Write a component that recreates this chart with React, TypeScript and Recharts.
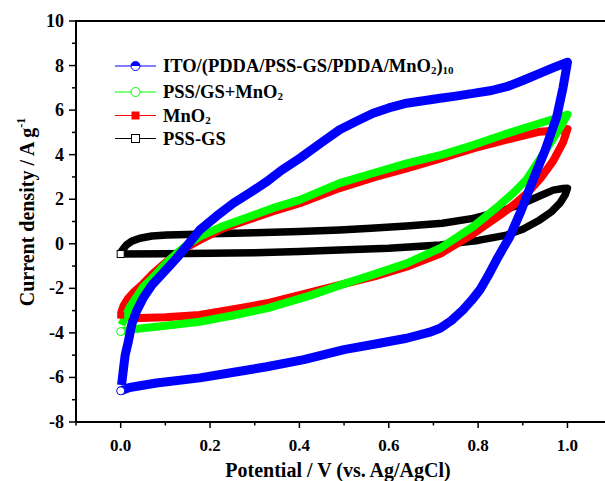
import { LineChart, Line, XAxis, YAxis } from "recharts";

// potential (V) and current density (A/g), traced as closed loops
const lblV = [0, 0.02, 0.08, 0.177, 0.25, 0.327, 0.41, 0.5, 0.57, 0.64, 0.69, 0.715, 0.74, 0.766, 0.785, 0.804, 0.822, 0.841, 0.856, 0.871, 0.897, 0.92, 0.95, 0.976, 0.99, 1.0,
  0.97, 0.938, 0.9, 0.864, 0.83, 0.789, 0.75, 0.715, 0.64, 0.6, 0.565, 0.53, 0.49, 0.45, 0.401, 0.36, 0.327, 0.29, 0.252, 0.215, 0.177, 0.15, 0.125, 0.1, 0.07, 0.05, 0.036, 0.025, 0.017, 0.01, 0.006, 0.002];
const lblI = [-6.6, -6.45, -6.25, -6.02, -5.78, -5.52, -5.2, -4.75, -4.5, -4.24, -3.98, -3.79, -3.45, -2.97, -2.55, -2.07, -1.45, -0.73, -0.2, 0.32, 1.52, 2.72, 4.2, 5.7, 7.0, 8.15,
  7.92, 7.65, 7.33, 7.05, 6.88, 6.75, 6.63, 6.53, 6.31, 6.1, 5.86, 5.52, 5.12, 4.55, 3.84, 3.3, 2.79, 2.3, 1.82, 1.25, 0.62, -0.05, -0.65, -1.2, -1.85, -2.45, -3.0, -3.6, -4.4, -5.0, -5.66, -6.34];

const pgmV = [0, 0.028, 0.1, 0.177, 0.25, 0.327, 0.42, 0.5, 0.57, 0.64, 0.715, 0.789, 0.849, 0.88, 0.909, 0.93, 0.953, 0.983, 1.0,
  0.985, 0.938, 0.86, 0.789, 0.72, 0.64, 0.57, 0.49, 0.401, 0.34, 0.289, 0.23, 0.177, 0.15, 0.125, 0.1, 0.073, 0.05, 0.035, 0.021, 0.01, 0.002];
const pgmI = [-3.94, -3.84, -3.68, -3.5, -3.22, -2.9, -2.35, -1.8, -1.35, -0.88, -0.2, 0.77, 1.75, 2.3, 2.9, 3.55, 4.25, 5.2, 5.8,
  5.7, 5.41, 4.92, 4.43, 4.0, 3.61, 3.2, 2.72, 1.97, 1.6, 1.22, 0.8, 0.32, -0.03, -0.43, -0.9, -1.5, -1.95, -2.4, -2.82, -3.3, -3.64];

const mnV = [0, 0.028, 0.1, 0.177, 0.25, 0.327, 0.42, 0.5, 0.57, 0.64, 0.715, 0.789, 0.85, 0.88, 0.909, 0.94, 0.968, 0.99, 1.0,
  0.985, 0.938, 0.86, 0.789, 0.72, 0.64, 0.57, 0.49, 0.401, 0.34, 0.289, 0.23, 0.177, 0.14, 0.1, 0.073, 0.05, 0.028, 0.015, 0.006, 0.001];
const mnI = [-3.2, -3.34, -3.3, -3.2, -2.95, -2.67, -2.2, -1.8, -1.45, -1.03, -0.45, 0.45, 1.3, 1.75, 2.25, 2.95, 3.72, 4.55, 5.15,
  5.1, 5.03, 4.65, 4.28, 3.85, 3.38, 3.0, 2.5, 1.82, 1.45, 1.1, 0.7, 0.17, -0.25, -0.85, -1.32, -1.8, -2.2, -2.5, -2.8, -3.1];

const pgV = [0, 0.1, 0.2, 0.3, 0.4, 0.49, 0.6, 0.715, 0.8, 0.864, 0.9, 0.938, 0.965, 0.983, 0.995, 1.0,
  0.99, 0.968, 0.935, 0.901, 0.85, 0.789, 0.72, 0.64, 0.56, 0.49, 0.4, 0.3, 0.252, 0.2, 0.15, 0.103, 0.07, 0.043, 0.025, 0.013, 0.005, 0];
const pgI = [-0.46, -0.45, -0.43, -0.4, -0.35, -0.28, -0.2, -0.05, 0.15, 0.39, 0.65, 1.07, 1.45, 1.82, 2.2, 2.49,
  2.48, 2.41, 2.12, 1.82, 1.45, 1.14, 0.92, 0.8, 0.7, 0.62, 0.55, 0.5, 0.47, 0.45, 0.42, 0.39, 0.35, 0.25, 0.12, -0.05, -0.25, -0.4];

const xTicks = [-0.1, 0, 0.1, 0.2, 0.3, 0.4, 0.5, 0.6, 0.7, 0.8, 0.9, 1.0];
const yTicks = [-8, -7, -6, -5, -4, -3, -2, -1, 0, 1, 2, 3, 4, 5, 6, 7, 8, 9, 10];

const FONT = "'Liberation Serif', 'Times New Roman', serif";

const zip = (v: number[], i: number[]) => v.map((x, k) => ({ v: x, i: i[k] }));

function XTick(p: any) {
  const val = p.payload.value;
  const major = Math.round(val * 10) % 2 === 0;
  return (
    <g>
      <line x1={p.x} x2={p.x} y1={p.y} y2={p.y + (major ? 6 : 3.5)} stroke="#000" strokeWidth={1.5} />
      {major && (
        <text x={p.x} y={p.y + 29} textAnchor="middle" fontSize={17} fontWeight="bold" fontFamily={FONT} fill="#000">
          {val.toFixed(1)}
        </text>
      )}
    </g>
  );
}

function YTick(p: any) {
  const val = p.payload.value;
  const major = Math.round(val) % 2 === 0;
  return (
    <g>
      <line x1={p.x} x2={p.x - (major ? 7 : 4)} y1={p.y} y2={p.y} stroke="#000" strokeWidth={1.5} />
      {major && (
        <text x={p.x - 12} y={p.y + 6} textAnchor="end" fontSize={18} fontWeight="bold" fontFamily={FONT} fill="#000">
          {val}
        </text>
      )}
    </g>
  );
}

// marker only on first point of each loop
const startDot = (kind: string, color: string) => (p: any) => {
  if (p.index !== 0) return <g key={p.index} />;
  const { cx, cy } = p;
  if (kind === "sq") return <rect key="s" x={cx - 3.5} y={cy - 3.5} width={7} height={7} fill="#fff" stroke={color} strokeWidth={1} />;
  if (kind === "fsq") return <rect key="s" x={cx - 3.5} y={cy - 3.5} width={7} height={7} fill={color} />;
  return <circle key="s" cx={cx} cy={cy} r={4} fill="#fff" stroke={color} strokeWidth={1} />;
};

const legend = [
  { name: "ITO/(PDDA/PSS-GS/PDDA/MnO", sub: "2", tail: ")", sub2: "10", color: "#0000ff", m: "half", y: 66 },
  { name: "PSS/GS+MnO", sub: "2", tail: "", sub2: "", color: "#00ff00", m: "circle", y: 92 },
  { name: "MnO", sub: "2", tail: "", sub2: "", color: "#ff0000", m: "fsq", y: 115.5 },
  { name: "PSS-GS", sub: "", tail: "", sub2: "", color: "#000000", m: "sq", y: 138.5 },
];

export default function App() {
  return (
    <div style={{ position: "absolute", left: 0, top: 0, width: 605, height: 481, background: "#fff" }}>
      <LineChart width={605} height={481} margin={{ top: 21, right: 0, bottom: 0, left: 0 }}>
        <XAxis
          dataKey="v"
          type="number"
          domain={[-0.1, 1.084]}
          allowDataOverflow
          ticks={xTicks}
          interval={0}
          height={59}
          tickSize={0}
          tickMargin={0}
          tickLine={false}
          axisLine={{ stroke: "#000", strokeWidth: 2 }}
          tick={XTick}
        />
        <YAxis
          type="number"
          domain={[-8, 10]}
          allowDataOverflow
          ticks={yTicks}
          interval={0}
          width={76}
          tickSize={0}
          tickMargin={0}
          tickLine={false}
          axisLine={{ stroke: "#000", strokeWidth: 2 }}
          tick={YTick}
        />
        <Line data={zip(pgV, pgI)} dataKey="i" type="linear" stroke="#000000" strokeWidth={7.5} strokeLinejoin="round" dot={startDot("sq", "#000")} isAnimationActive={false} />
        <Line data={zip(mnV, mnI)} dataKey="i" type="linear" stroke="#ff0000" strokeWidth={8} strokeLinejoin="round" dot={startDot("fsq", "#ff0000")} isAnimationActive={false} />
        <Line data={zip(pgmV, pgmI)} dataKey="i" type="linear" stroke="#00ff00" strokeWidth={8} strokeLinejoin="round" dot={startDot("circle", "#00ff00")} isAnimationActive={false} />
        <Line data={zip(lblV, lblI)} dataKey="i" type="linear" stroke="#0000ff" strokeWidth={9} strokeLinejoin="round" dot={startDot("circle", "#0000ff")} isAnimationActive={false} />
      </LineChart>

      <svg width={605} height={481} style={{ position: "absolute", left: 0, top: 0, pointerEvents: "none" }}>
        <line x1={75} x2={605} y1={21} y2={21} stroke="#000" strokeWidth={2} />
        <text x={338} y={477} textAnchor="middle" fontSize={20} fontWeight="bold" fontFamily={FONT} fill="#000">
          Potential / V (vs. Ag/AgCl)
        </text>
        <text transform="translate(34,212) rotate(-90)" textAnchor="middle" fontSize={20} fontWeight="bold" fontFamily={FONT} fill="#000">
          Current density / A g<tspan dy={-9} fontSize={12}>-1</tspan>
        </text>
        {legend.map((e) => (
          <g key={e.name}>
            <line x1={115} x2={156} y1={e.y} y2={e.y} stroke={e.color} strokeWidth={1} />
            {e.m === "half" && (
              <g>
                <circle cx={135.5} cy={e.y} r={4.5} fill="#fff" stroke={e.color} strokeWidth={1} />
                <path d={`M ${131} ${e.y} A 4.5 4.5 0 0 1 ${140} ${e.y} Z`} fill={e.color} />
              </g>
            )}
            {e.m === "circle" && <circle cx={135.5} cy={e.y} r={4.5} fill="#fff" stroke={e.color} strokeWidth={1} />}
            {e.m === "fsq" && <rect x={131.5} y={e.y - 4} width={8} height={8} fill={e.color} />}
            {e.m === "sq" && <rect x={131.5} y={e.y - 4} width={8} height={8} fill="#fff" stroke={e.color} strokeWidth={1} />}
            <text x={163} y={e.y + 6} fontSize={18.5} fontWeight="bold" fontFamily={FONT} fill="#000">
              {e.name}
              {e.sub && <tspan fontSize={11} dy={2}>{e.sub}</tspan>}
              {e.tail && <tspan fontSize={18.5} dy={-2}>{e.tail}</tspan>}
              {e.sub2 && <tspan fontSize={11} dy={2}>{e.sub2}</tspan>}
            </text>
          </g>
        ))}
      </svg>
    </div>
  );
}
